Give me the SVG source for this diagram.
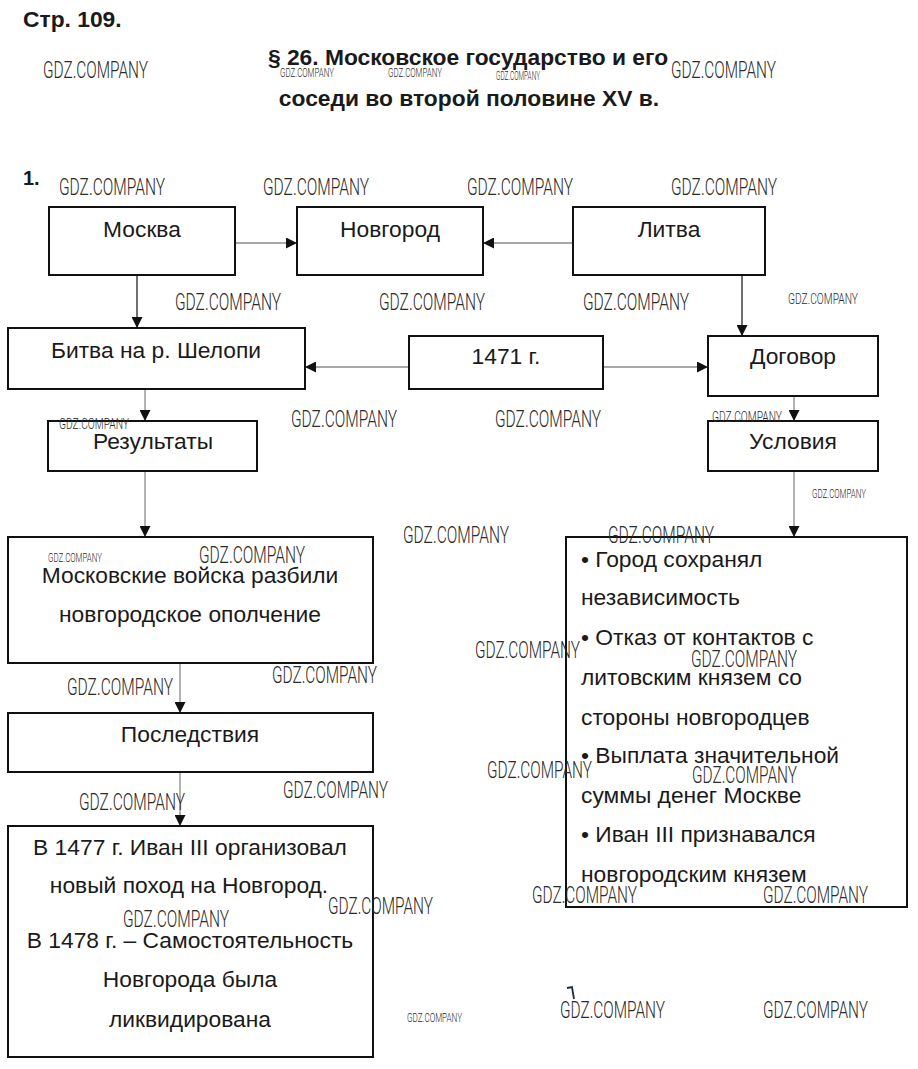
<svg xmlns="http://www.w3.org/2000/svg" width="918" height="1069" viewBox="0 0 918 1069">
<defs>
<style>
.bg{fill:#fff}
.box{fill:#fff;stroke:#111;stroke-width:2}
.t{font-family:"Liberation Sans",Arial,sans-serif;font-size:22.8px;fill:#1a1a1a}
.c{text-anchor:middle}
.h{font-family:"Liberation Sans",Arial,sans-serif;font-weight:bold;fill:#1a1a1a}
.ln{stroke:#8a8a8a;stroke-width:1.3;fill:none;marker-end:url(#ah)}
.lnd{stroke:#222;stroke-width:1.3;fill:none;marker-end:url(#ah)}
.wm{font-family:Roboto,"Liberation Sans",sans-serif;font-weight:300;fill:#2a2a2a}
.wb{font-size:24px}
.wm2{font-size:15px}
.ws{font-size:12.5px}
</style>
<marker id="ah" viewBox="0 0 10 10" refX="10" refY="5" markerWidth="11" markerHeight="11" markerUnits="userSpaceOnUse" orient="auto">
<path d="M0,0 L10,5 L0,10 z" fill="#111"/>
</marker>
</defs>
<rect class="bg" x="0" y="0" width="918" height="1069"/>

<g id="header">
<text class="h" x="23" y="27" font-size="22.8">Стр. 109.</text>
<text class="h c" x="468" y="65" font-size="22.8">§ 26. Московское государство и его</text>
<text class="h c" x="469" y="106" font-size="22.8">соседи во второй половине XV в.</text>
<text class="h" x="23" y="185" font-size="20">1.</text>
</g>

<g id="connectors">
<line class="ln" x1="235" y1="243" x2="297" y2="243"/>
<line class="ln" x1="573" y1="243" x2="483" y2="243"/>
<line class="lnd" x1="137" y1="275" x2="137" y2="328"/>
<line class="lnd" x1="742" y1="275" x2="742" y2="336"/>
<line class="ln" x1="409" y1="367" x2="305" y2="367"/>
<line class="ln" x1="603" y1="367" x2="708" y2="367"/>
<line class="ln" x1="145" y1="389" x2="145" y2="421"/>
<line class="ln" x1="145" y1="471" x2="145" y2="537"/>
<line class="ln" x1="794" y1="396" x2="794" y2="421"/>
<line class="ln" x1="794" y1="471" x2="794" y2="537"/>
<line class="ln" x1="180" y1="663" x2="180" y2="713"/>
<line class="ln" x1="180" y1="772" x2="180" y2="826"/>
</g>

<g id="n-moskva"><rect class="box" x="49" y="207" width="186" height="68"/><text class="t c" x="142" y="237">Москва</text></g>
<g id="n-novgorod"><rect class="box" x="297" y="207" width="186" height="68"/><text class="t c" x="390" y="237">Новгород</text></g>
<g id="n-litva"><rect class="box" x="573" y="207" width="192" height="68"/><text class="t c" x="669" y="237">Литва</text></g>
<g id="n-bitva"><rect class="box" x="8" y="328" width="297" height="61"/><text class="t c" x="156" y="358">Битва на р. Шелопи</text></g>
<g id="n-1471"><rect class="box" x="409" y="336" width="194" height="53"/><text class="t c" x="506" y="364">1471 г.</text></g>
<g id="n-dogovor"><rect class="box" x="708" y="336" width="170" height="60"/><text class="t c" x="793" y="364">Договор</text></g>
<g id="n-results"><rect class="box" x="48" y="421" width="209" height="50"/><text class="t c" x="153" y="449">Результаты</text></g>
<g id="n-usloviya"><rect class="box" x="708" y="421" width="170" height="50"/><text class="t c" x="793" y="449">Условия</text></g>
<g id="n-voiska"><rect class="box" x="8" y="537" width="365" height="126"/>
<text class="t c" x="190" y="583">Московские войска разбили</text>
<text class="t c" x="190" y="622">новгородское ополчение</text></g>
<g id="n-conditions"><rect class="box" x="566" y="537" width="341" height="370"/>
<text class="t" x="581" y="567">• Город сохранял</text>
<text class="t" x="581" y="605">независимость</text>
<text class="t" x="581" y="645">• Отказ от контактов с</text>
<text class="t" x="581" y="685">литовским князем со</text>
<text class="t" x="581" y="725">стороны новгородцев</text>
<text class="t" x="581" y="763">• Выплата значительной</text>
<text class="t" x="581" y="803">суммы денег Москве</text>
<text class="t" x="581" y="842">• Иван III признавался</text>
<text class="t" x="581" y="882">новгородским князем</text></g>
<g id="n-posledstviya"><rect class="box" x="8" y="713" width="365" height="59"/><text class="t c" x="190" y="742">Последствия</text></g>
<g id="n-final"><rect class="box" x="8" y="826" width="365" height="231"/>
<text class="t c" x="190" y="855">В 1477 г. Иван III организовал</text>
<text class="t c" x="189" y="893">новый поход на Новгород.</text>
<text class="t c" x="190" y="948">В 1478 г. – Самостоятельность</text>
<text class="t c" x="190" y="987">Новгорода была</text>
<text class="t c" x="190" y="1027">ликвидирована</text></g>

<g id="watermarks">
<text class="wm wb" x="43" y="78" textLength="105" lengthAdjust="spacingAndGlyphs">GDZ.COMPANY</text>
<text class="wm wb" x="671" y="78" textLength="105" lengthAdjust="spacingAndGlyphs">GDZ.COMPANY</text>
<text class="wm ws" x="280" y="77" textLength="54" lengthAdjust="spacingAndGlyphs">GDZ.COMPANY</text>
<text class="wm ws" x="388" y="77" textLength="54" lengthAdjust="spacingAndGlyphs">GDZ.COMPANY</text>
<text class="wm ws" x="496" y="80" textLength="44" lengthAdjust="spacingAndGlyphs">GDZ.COMPANY</text>
<text class="wm wb" x="59" y="195" textLength="106" lengthAdjust="spacingAndGlyphs">GDZ.COMPANY</text>
<text class="wm wb" x="263" y="195" textLength="106" lengthAdjust="spacingAndGlyphs">GDZ.COMPANY</text>
<text class="wm wb" x="467" y="195" textLength="106" lengthAdjust="spacingAndGlyphs">GDZ.COMPANY</text>
<text class="wm wb" x="671" y="195" textLength="106" lengthAdjust="spacingAndGlyphs">GDZ.COMPANY</text>
<text class="wm wb" x="175" y="310" textLength="106" lengthAdjust="spacingAndGlyphs">GDZ.COMPANY</text>
<text class="wm wb" x="379" y="310" textLength="106" lengthAdjust="spacingAndGlyphs">GDZ.COMPANY</text>
<text class="wm wb" x="583" y="310" textLength="106" lengthAdjust="spacingAndGlyphs">GDZ.COMPANY</text>
<text class="wm wm2" x="788" y="304" textLength="70" lengthAdjust="spacingAndGlyphs">GDZ.COMPANY</text>
<text class="wm wb" x="291" y="427" textLength="106" lengthAdjust="spacingAndGlyphs">GDZ.COMPANY</text>
<text class="wm wb" x="495" y="427" textLength="106" lengthAdjust="spacingAndGlyphs">GDZ.COMPANY</text>
<text class="wm wm2" x="59" y="429" textLength="70" lengthAdjust="spacingAndGlyphs">GDZ.COMPANY</text>
<text class="wm wm2" x="712" y="422" textLength="70" lengthAdjust="spacingAndGlyphs">GDZ.COMPANY</text>
<text class="wm ws" x="812" y="498" textLength="54" lengthAdjust="spacingAndGlyphs">GDZ.COMPANY</text>
<text class="wm wb" x="403" y="543" textLength="106" lengthAdjust="spacingAndGlyphs">GDZ.COMPANY</text>
<text class="wm wb" x="608" y="543" textLength="106" lengthAdjust="spacingAndGlyphs">GDZ.COMPANY</text>
<text class="wm ws" x="48" y="562" textLength="54" lengthAdjust="spacingAndGlyphs">GDZ.COMPANY</text>
<text class="wm wb" x="199" y="563" textLength="106" lengthAdjust="spacingAndGlyphs">GDZ.COMPANY</text>
<text class="wm wb" x="475" y="658" textLength="105" lengthAdjust="spacingAndGlyphs">GDZ.COMPANY</text>
<text class="wm wb" x="691" y="667" textLength="106" lengthAdjust="spacingAndGlyphs">GDZ.COMPANY</text>
<text class="wm wb" x="272" y="683" textLength="105" lengthAdjust="spacingAndGlyphs">GDZ.COMPANY</text>
<text class="wm wb" x="67" y="695" textLength="106" lengthAdjust="spacingAndGlyphs">GDZ.COMPANY</text>
<text class="wm wb" x="79" y="810" textLength="106" lengthAdjust="spacingAndGlyphs">GDZ.COMPANY</text>
<text class="wm wb" x="283" y="798" textLength="105" lengthAdjust="spacingAndGlyphs">GDZ.COMPANY</text>
<text class="wm wb" x="487" y="778" textLength="105" lengthAdjust="spacingAndGlyphs">GDZ.COMPANY</text>
<text class="wm wb" x="692" y="783" textLength="105" lengthAdjust="spacingAndGlyphs">GDZ.COMPANY</text>
<text class="wm wb" x="123" y="927" textLength="106" lengthAdjust="spacingAndGlyphs">GDZ.COMPANY</text>
<text class="wm wb" x="328" y="914" textLength="105" lengthAdjust="spacingAndGlyphs">GDZ.COMPANY</text>
<text class="wm wb" x="532" y="903" textLength="105" lengthAdjust="spacingAndGlyphs">GDZ.COMPANY</text>
<text class="wm wb" x="763" y="903" textLength="105" lengthAdjust="spacingAndGlyphs">GDZ.COMPANY</text>
<text class="wm ws" x="407" y="1022" textLength="55" lengthAdjust="spacingAndGlyphs">GDZ.COMPANY</text>
<text class="wm wb" x="560" y="1018" textLength="105" lengthAdjust="spacingAndGlyphs">GDZ.COMPANY</text>
<text class="wm wb" x="763" y="1018" textLength="105" lengthAdjust="spacingAndGlyphs">GDZ.COMPANY</text>
<path d="M567,988 L572,987 L574,999" fill="none" stroke="#1a2a3a" stroke-width="1.8"/>
</g>
</svg>
